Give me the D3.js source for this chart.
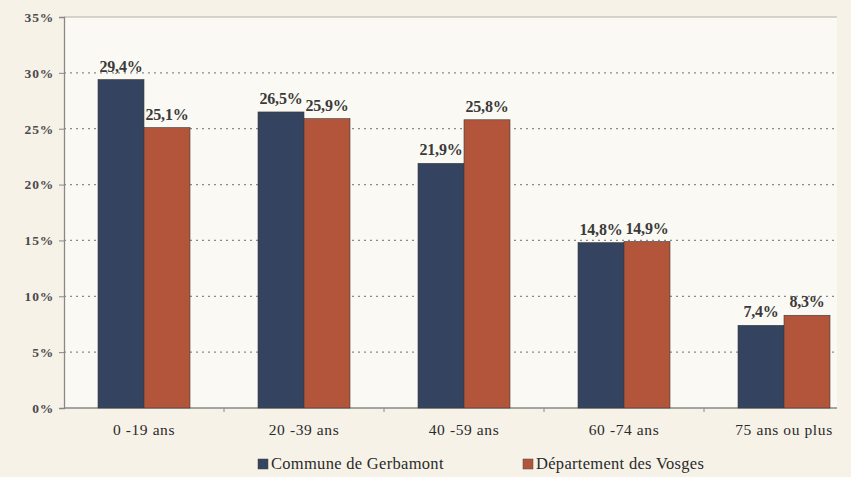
<!DOCTYPE html>
<html>
<head>
<meta charset="utf-8">
<script src="https://cdn.jsdelivr.net/npm/d3@7"></script>
<style>
  body { margin: 0; background: #f6f2e8; }
  svg { display: block; }
</style>
</head>
<body>
<svg id="chart" width="851" height="477"></svg>
<script>
// age groups and the two series (percent)
const categories = ["0 -19 ans", "20 -39 ans", "40 -59 ans", "60 -74 ans", "75 ans ou plus"];
const series = ["Commune de Gerbamont", "Département des Vosges"];
const gerbamont = [29.4, 26.5, 21.9, 14.8, 7.4];
const vosges = [25.1, 25.9, 25.8, 14.9, 8.3];
const yTicks = [0, 5, 10, 15, 20, 25, 30, 35];
const colors = ["#34435f", "#b3553b"];
const FONT = "Liberation Serif";

const svg = d3.select("#chart");
const margin = {top: 17, right: 14, bottom: 69, left: 64};
const width = 851 - margin.left - margin.right;
const height = 477 - margin.top - margin.bottom;

const g = svg.append("g").attr("transform", `translate(${margin.left},${margin.top})`);

// plot area, a bit lighter than the paper
g.append("rect").attr("width", width).attr("height", height).attr("fill", "#fbf9f3");

// the scanned chart has its groups slightly shifted right, so the band range is set by hand
const x = d3.scaleBand().domain(categories).range([34, 766]).paddingInner(0.425).paddingOuter(0);
const xs = d3.scaleBand().domain(series).range([0, x.bandwidth()]);
const y = d3.scaleLinear().domain([0, 35]).range([height, 0]);

const fmt = v => v.toFixed(1).replace(".", ",") + "%";

// dotted gridlines
g.selectAll(".grid").data(yTicks.filter(d => d > 0 && d < 35)).enter()
  .append("line")
    .attr("x1", 0).attr("x2", width)
    .attr("y1", d => y(d)).attr("y2", d => y(d))
    .attr("stroke", "#8a8a8a").attr("stroke-width", 1.3)
    .attr("stroke-dasharray", "2,4");
g.append("line").attr("x1", 0).attr("x2", width).attr("y1", y(35)).attr("y2", y(35))
  .attr("stroke", "#b5b0a5").attr("stroke-width", 1.2);

// y axis
const yAxis = g.append("g").call(d3.axisLeft(y).tickValues(yTicks).tickSize(5).tickFormat(d => d + "%"));
yAxis.attr("font-family", FONT);
yAxis.select(".domain").attr("stroke", "#888").attr("stroke-width", 1.3);
yAxis.selectAll(".tick line").attr("stroke", "#888");
yAxis.selectAll("text")
  .attr("font-family", FONT).attr("font-size", 13.5)
  .attr("font-weight", "bold").attr("fill", "#4a4a4a").attr("x", -10)
  .attr("letter-spacing", 0.8);

// x axis with ticks at category boundaries
g.append("line").attr("x1", 0).attr("x2", width).attr("y1", height).attr("y2", height)
  .attr("stroke", "#888").attr("stroke-width", 1.3);
const step = x.step();
g.selectAll(".xtick").data(categories.slice(1)).enter()
  .append("line")
    .attr("x1", d => x(d) - x.paddingInner() * step / 2)
    .attr("x2", d => x(d) - x.paddingInner() * step / 2)
    .attr("y1", height).attr("y2", height + 4)
    .attr("stroke", "#888");
g.selectAll(".xlabel").data(categories).enter()
  .append("text")
    .attr("x", d => x(d) + x.bandwidth() / 2)
    .attr("y", height + 27)
    .attr("text-anchor", "middle")
    .attr("font-family", FONT).attr("font-size", 15.5)
    .attr("letter-spacing", 0.6)
    .attr("fill", "#2a2a2a")
    .text(d => d);

// bars
const rows = categories.map((c, i) => ({cat: c, values: [gerbamont[i], vosges[i]]}));
const groups = g.selectAll(".grp").data(rows).enter()
  .append("g").attr("transform", d => `translate(${x(d.cat)},0)`);

groups.selectAll("rect")
  .data(d => d.values.map((v, j) => ({s: series[j], v: v, j: j})))
  .enter().append("rect")
    .attr("x", d => xs(d.s))
    .attr("y", d => y(d.v))
    .attr("width", xs.bandwidth())
    .attr("height", d => height - y(d.v))
    .attr("fill", d => colors[d.j])
    .attr("stroke", "#3a3a3a").attr("stroke-width", 0.6);

groups.selectAll(".val")
  .data(d => d.values.map((v, j) => ({s: series[j], v: v, j: j})))
  .enter().append("text")
    .attr("x", d => xs(d.s) + xs.bandwidth() / 2)
    .attr("y", d => y(d.v) - 8)
    .attr("text-anchor", "middle")
    .attr("font-family", FONT).attr("font-size", 16)
    .attr("font-weight", "bold").attr("fill", "#3a3a3a")
    .attr("letter-spacing", -0.2)
    .text(d => fmt(d.v));

// legend
const legendX = [258, 523];
const legend = svg.selectAll(".leg").data(series).enter()
  .append("g").attr("transform", (d, i) => `translate(${legendX[i]},459)`);
legend.append("rect").attr("width", 10).attr("height", 10)
  .attr("fill", (d, i) => colors[i]).attr("stroke", "#444").attr("stroke-width", 0.5);
legend.append("text").attr("x", 13).attr("y", 10)
  .attr("font-family", FONT).attr("font-size", 16.5)
  .attr("letter-spacing", 0.3)
  .attr("fill", "#2a2a2a")
  .text(d => d);
</script>
</body>
</html>
